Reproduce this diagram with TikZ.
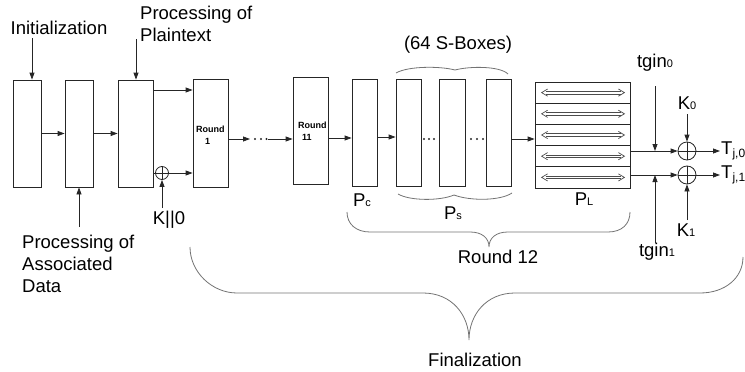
\documentclass[tikz,border=0pt]{standalone}
\usepackage{fontspec}
\setmainfont{Liberation Sans}
\usetikzlibrary{arrows.meta}
\newcommand{\sbs}[1]{{\fontsize{11}{11}\selectfont #1}}
\newcommand{\tsub}[1]{\raisebox{-3pt}{\fontsize{12}{12}\selectfont #1}}
\begin{document}
\begin{tikzpicture}[x=1pt,y=-1pt,
  font=\fontsize{18.5}{22}\selectfont,
  ln/.style={draw=black!85, line width=0.8pt},
  box/.style={ln, rectangle, inner sep=0pt, minimum width=#1, minimum height=107pt},
  plrow/.style={ln, rectangle, inner sep=0pt, minimum width=95pt, minimum height=21.2pt},
  arr/.style={ln, -{Triangle[length=7pt,width=5pt]}},
  brc/.style={draw=black!55, line width=0.8pt},
  xor/.style={ln, circle, inner sep=0pt, minimum size=#1,
    path picture={\draw[black!85, line width=0.8pt]
      (path picture bounding box.north) -- (path picture bounding box.south)
      (path picture bounding box.west) -- (path picture bounding box.east);}},
  dl/.style={draw=black!70, line width=0.7pt, line join=miter},
  sdot/.style={circle, fill=black!85, inner sep=0pt, minimum size=2.4pt},
  lbl/.style={inner sep=0pt},
  rnd/.style={inner sep=0pt, font=\fontsize{9}{12}\selectfont\bfseries, align=left}
]
\useasboundingbox (0,0) rectangle (745,372);

% boxes
\node[box=28] (b1) at (27,133.5) {};
\node[box=28] (b2) at (79,133.5) {};
\node[box=35] (b3) at (135.5,133.5) {};
\node[box=35, minimum height=108pt] (r1) at (210.5,133) {};
\node[box=35] (r11) at (310.5,130.5) {};
\node[box=25] (pc) at (364.5,132.5) {};
\node[box=25] (s1) at (408.5,132.5) {};
\node[box=26] (s2) at (452,132.5) {};
\node[box=25] (s3) at (498.5,132.5) {};
\foreach \i in {1,...,5}
  \node[plrow] (pl\i) at (582.5,{82+21.2*(\i-0.5)}) {};
\foreach \i in {1,...,5} {
  \draw[dl] ([xshift=11pt,yshift=1.3pt]pl\i.west) -- ([xshift=-9pt,yshift=1.3pt]pl\i.east)
            ([xshift=11pt,yshift=-1.3pt]pl\i.west) -- ([xshift=-9pt,yshift=-1.3pt]pl\i.east);
  \draw[dl] ([xshift=13pt,yshift=3.6pt]pl\i.west) -- ([xshift=7pt]pl\i.west)
            -- ([xshift=13pt,yshift=-3.6pt]pl\i.west);
  \draw[dl] ([xshift=-12pt,yshift=3.6pt]pl\i.east) -- ([xshift=-6pt]pl\i.east)
            -- ([xshift=-12pt,yshift=-3.6pt]pl\i.east);
}

% text in rounds
\node[rnd, anchor=west] (r1t) at (196,135) {Round\\\hspace*{9pt}1};
\node[rnd, anchor=west] (r11t) at (298,131) {Round\\\hspace*{4pt}11};

% xors
\node[xor=13pt] (xs) at (162,173) {};
\node[xor=18pt] (xa) at (687,151) {};
\node[xor=18pt] (xb) at (687,175) {};

% labels
\node[lbl] (init) at (59,28) {Initialization};
\node[lbl, align=left, anchor=west] (ppt) at (140,24) {Processing of\\Plaintext};
\node[lbl, align=left, anchor=west] (pad) at (22,264) {Processing of\\Associated\\Data};
\node[lbl] (kk) at (169,220) {K||0};
\node[lbl] (sb) at (458,45) {(64 S-Boxes)};
\node[lbl] (pcl) at (362,200) {P\sbs{c}};
\node[lbl] (psl) at (453,213) {P\sbs{s}};
\node[lbl] (pll) at (584,199) {P\sbs{L}};
\node[lbl] (r12) at (498,257) {Round 12};
\node[lbl] (fin) at (475,360) {Finalization};
\node[lbl] (tg0) at (655,63) {tgin\sbs{0}};
\node[lbl] (tg1) at (657,252) {tgin\sbs{1}};
\node[lbl] (k0) at (687,103) {K\sbs{0}};
\node[lbl] (k1) at (686,230) {K\sbs{1}};
\node[lbl, anchor=west] (t0) at (721,151) {T\tsub{j,0}};
\node[lbl, anchor=west] (t1) at (721,175) {T\tsub{j,1}};

% coordinates
\coordinate (ia) at (32,38);
\coordinate (pa) at (136,39);
\coordinate (aa) at (79,227);
\coordinate (ka) at (162,208);
\coordinate (h90) at (0,90);
\coordinate (d1) at (250,139);
\coordinate (d2) at (268,139);
\coordinate (h138) at (0,138);
\coordinate (h137) at (0,137);
\coordinate (h139) at (0,139);
\coordinate (g0) at (655,86);
\coordinate (g1) at (655,243);
\coordinate (ka0) at (687,114);
\coordinate (ka1) at (687,220);
\coordinate (e0) at (720,151);
\coordinate (e1) at (720,175);

% dots
\node[sdot] (dt1) at (255,139) {};
\node[sdot] (dt2) at (261,139) {};
\node[sdot] (dt3) at (266.5,139) {};
\node[sdot] (dt4) at (424,139) {};
\node[sdot] (dt5) at (429,139) {};
\node[sdot] (dt6) at (434,139) {};
\node[sdot] (dt7) at (471,139) {};
\node[sdot] (dt8) at (477,139) {};
\node[sdot] (dt9) at (483,139) {};

% arrows
\draw[arr] (ia) -- (ia |- b1.north);
\draw[arr] (pa) -- (pa |- b3.north);
\draw[arr] (aa) -- (aa |- b2.south);
\draw[arr] (b1.east) -- (b2.west);
\draw[arr] (b2.east) -- (b3.west);
\draw[arr] (b3.east |- h90) -- (r1.west |- h90);
\draw[ln] (b3.east |- xs) -- (xs.west);
\draw[arr] (xs.east) -- (r1.west |- xs);
\draw[arr] (ka) -- (xs.south);
\draw[arr] (r1.east |- d1) -- (d1);
\draw[arr] (d2) -- (r11.west |- d2);
\draw[arr] (r11.east |- h138) -- (pc.west |- h138);
\draw[arr] (pc.east |- h137) -- (s1.west |- h137);
\draw[arr] (s3.east |- h139) -- (pl3.west |- h139);
\draw[arr] (pl4.east |- xa) -- (xa.west);
\draw[arr] (pl5.east |- xb) -- (xb.west);
\draw[arr] (g0) -- (g0 |- xa);
\draw[arr] (g1) -- (g1 |- xb);
\draw[arr] (ka0) -- (xa.north);
\draw[arr] (ka1) -- (xb.south);
\draw[arr] (xa.east) -- (e0);
\draw[arr] (xb.east) -- (e1);

% braces
\draw[brc] (396,73) .. controls (408,66) and (440,66) .. (455,70)
  .. controls (470,66) and (500,66) .. (508,74);
\draw[brc] (398,194) .. controls (410,201) and (440,201) .. (454,195)
  .. controls (470,201) and (500,201) .. (512,193);
\draw[brc] (347,212) .. controls (347,224) and (356,232) .. (370,232) -- (470,232)
  .. controls (482,232) and (489,238) .. (489,247)
  .. controls (489,238) and (496,232) .. (508,232) -- (608,232)
  .. controls (622,232) and (630,224) .. (630,212);
\draw[brc] (190,247) .. controls (190,272) and (212,293) .. (237,293) -- (423,293)
  .. controls (452,293) and (469,315) .. (469,340)
  .. controls (469,315) and (486,293) .. (515,293) -- (700,293)
  .. controls (725,293) and (743,278) .. (743,257);
\end{tikzpicture}
\end{document}
